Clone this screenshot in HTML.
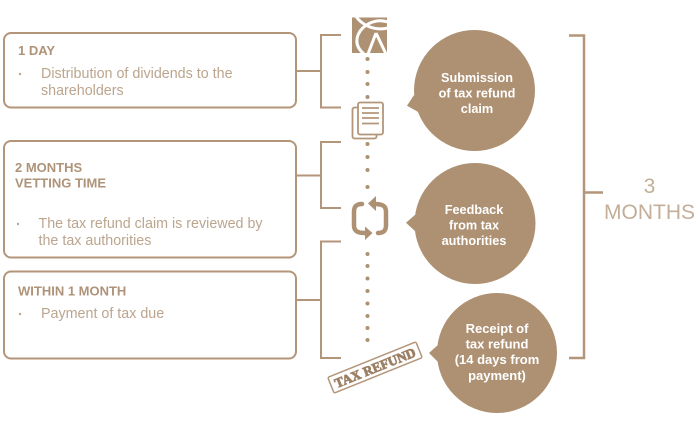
<!DOCTYPE html>
<html><head><meta charset="utf-8"><style>
html,body{margin:0;padding:0;background:#fff}
svg{display:block}
text{font-family:"Liberation Sans",sans-serif}
.t{font-size:14.3px;fill:#bba58e}
.b{font-size:13px;font-weight:bold;fill:#ae9378}
.w{font-size:12.7px;font-weight:bold;fill:#fff;text-anchor:middle}
.l{fill:none;stroke:#b3967a;stroke-width:2}
.f{fill:#ae9173}
.d{fill:#bba58e}
</style></head><body>
<svg width="700" height="437" viewBox="0 0 700 437" xmlns="http://www.w3.org/2000/svg">
<rect x="4" y="33" width="292" height="74.500" rx="7" class="l"/>
<rect x="4" y="141" width="292" height="116.500" rx="7" class="l"/>
<rect x="4" y="271.500" width="292" height="87" rx="7" class="l"/>
<path class="l" d="M296 71H321M341 35H321V107.500H341M296 175.500H321M341 142H321V208H341M296 300H321M341 241.500H321V358H341"/>
<path class="l" style="stroke-width:2.500" d="M569 35.500H584V358H569M584 192.500H603"/>
<text class="b" x="18" y="55">1 DAY</text>
<circle class="d" cx="20" cy="74" r="1.200"/><text class="t" x="41" y="78">Distribution of dividends to the</text>
<text class="t" x="41" y="95">shareholders</text>
<text class="b" x="15" y="172">2 MONTHS</text><text class="b" x="15" y="187.500">VETTING TIME</text>
<circle class="d" cx="18" cy="224" r="1.200"/><text class="t" x="38.500" y="228">The tax refund claim is reviewed by</text>
<text class="t" x="38.500" y="245">the tax authorities</text>
<text class="b" x="18" y="295.500">WITHIN 1 MONTH</text>
<circle class="d" cx="20" cy="314" r="1.200"/><text class="t" x="41" y="318">Payment of tax due</text>
<g class="f">
<circle cx="367.500" cy="59" r="2"/><circle cx="367.500" cy="72" r="2"/><circle cx="367.500" cy="84" r="2"/><circle cx="367.500" cy="97" r="2"/>
<circle cx="367.500" cy="144" r="2"/><circle cx="367.500" cy="157" r="2"/><circle cx="367.500" cy="170" r="2"/><circle cx="367.500" cy="187" r="2"/>
<circle cx="367.500" cy="254" r="2"/><circle cx="367.500" cy="266" r="2"/><circle cx="367.500" cy="278.500" r="2"/><circle cx="367.500" cy="291" r="2"/><circle cx="367.500" cy="303.500" r="2"/><circle cx="367.500" cy="316" r="2"/><circle cx="367.500" cy="328" r="2"/><circle cx="367.500" cy="340" r="2"/>
<rect x="352" y="17.500" width="35" height="35.500"/>
</g>
<path d="M355 15C362 26 375 31 388 28M388 22C375 18 362 25 358 35C355 43 358 49 364 54M376 33L368 54M376 33L386 54" fill="none" stroke="#fff" stroke-width="3"/>
<rect x="352.500" y="107.500" width="24" height="31" rx="2" fill="#fff" stroke="#b3967a" stroke-width="1.800"/>
<rect x="358" y="102.500" width="25" height="32" rx="2" fill="#fff" stroke="#b3967a" stroke-width="1.800"/>
<path class="l" style="stroke-width:1.800" d="M362 108H379M362 113H379M362 118H379M362 123.500H379"/>
<path fill="none" stroke="#ae9173" stroke-width="4.500" stroke-linecap="round" d="M362 204C355 204 354 208 354 212V225C354 230 356 233 365 233M378 233C385 233 386 229 386 225V212C386 207 384 204 375 204"/>
<path class="f" d="M368 203.500L376 196V211ZM372.500 233L365 226.500V240Z"/>
<path class="f" d="M407 105.700L414 95L420 113Z"/><circle class="f" cx="474.500" cy="90.500" r="60.500"/>
<path class="f" d="M406 222.700L416 214V232Z"/><circle class="f" cx="475" cy="223.500" r="60.500"/>
<path class="f" d="M429 353L439 344V363Z"/><circle class="f" cx="497" cy="353" r="60"/>
<text class="w" x="477" y="82">Submission</text><text class="w" x="477" y="97.500">of tax refund</text><text class="w" x="477" y="113">claim</text>
<text class="w" x="474" y="214">Feedback</text><text class="w" x="474" y="229.500">from tax</text><text class="w" x="474" y="245">authorities</text>
<text class="w" x="497" y="333" style="font-size:13px">Receipt of</text><text class="w" x="497" y="348.500" style="font-size:13px">tax refund</text><text class="w" x="497" y="364" style="font-size:13px">(14 days from</text><text class="w" x="497" y="380" style="font-size:13px">payment)</text>
<text x="649.500" y="193" font-size="21" fill="#c2ae99" text-anchor="middle">3</text>
<text x="649.500" y="219" font-size="21" fill="#c2ae99" text-anchor="middle">MONTHS</text>
<g transform="translate(375,367.500) rotate(-22)">
<rect x="-47.500" y="-8.500" width="95" height="17" rx="1.500" fill="#fff" stroke="#b3967a" stroke-width="1.500"/>
<text x="0" y="4.800" font-size="13.500" font-weight="bold" text-anchor="middle" fill="#9c8064" stroke="#9c8064" stroke-width="0.800" style="font-family:'Liberation Serif',serif" textLength="86" lengthAdjust="spacingAndGlyphs">TAX REFUND</text>
</g>
</svg>
</body></html>
